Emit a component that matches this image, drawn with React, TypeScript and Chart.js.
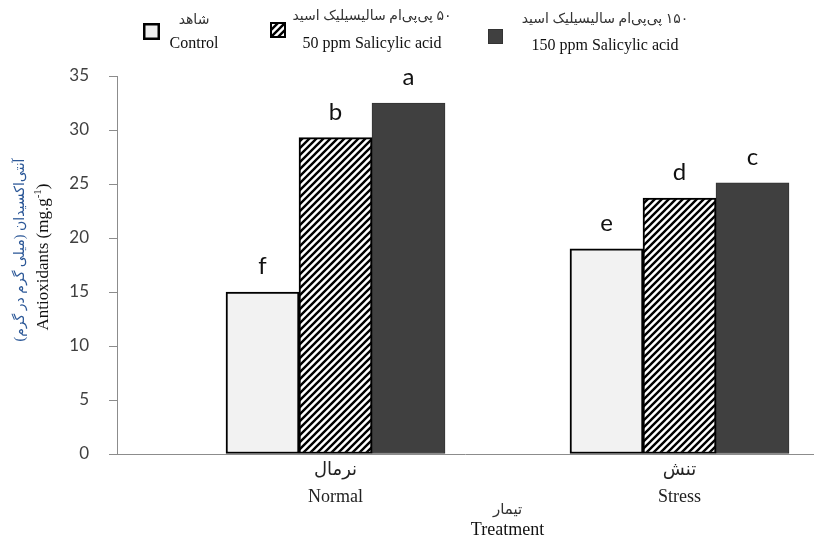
import React, { useEffect, useRef } from "react";
import { Chart, registerables } from "chart.js";

Chart.register(...registerables);

// ---- data ----
const categories = ["Normal", "Stress"];
const categoriesFa = ["نرمال", "تنش"];
const seriesNames = ["Control", "50 ppm Salicylic acid", "150 ppm Salicylic acid"];
const seriesNamesFa = ["شاهد", "۵۰ پی‌پی‌ام سالیسیلیک اسید", "۱۵۰ پی‌پی‌ام سالیسیلیک اسید"];
const controlValues = [15.0, 19.0];
const salicylic50Values = [29.3, 23.7];
const salicylic150Values = [32.5, 25.1];
const controlLetters = ["f", "e"];
const salicylic50Letters = ["b", "d"];
const salicylic150Letters = ["a", "c"];
const categoryPositions = [1, 2];
const yMin = 0;
const yMax = 35;
const yStep = 5;
const yTitleEn = "Antioxidants (mg.g";
const yTitleSup = "-1";
const yTitleFa = "آنتی‌اکسیدان (میلی گرم در گرم)";
const xTitleEn = "Treatment";
const xTitleFa = "تیمار";

const SERIF = "'Liberation Serif', 'Times New Roman', 'DejaVu Sans', serif";
const SANS = "Lato, 'Open Sans', sans-serif";

function makeHatch(): CanvasPattern | string {
  const c = document.createElement("canvas");
  const s = 7;
  c.width = s;
  c.height = s;
  const g = c.getContext("2d");
  if (!g) return "#888";
  g.fillStyle = "#ffffff";
  g.fillRect(0, 0, s, s);
  g.strokeStyle = "#000000";
  g.lineWidth = 2.4;
  g.beginPath();
  g.moveTo(-1, s + 1);
  g.lineTo(s + 1, -1);
  g.moveTo(-2, 2);
  g.lineTo(2, -2);
  g.moveTo(s - 2, s + 2);
  g.lineTo(s + 2, s - 2);
  g.stroke();
  const p = g.createPattern(c, "repeat");
  return p || "#888";
}

export default function App() {
  const ref = useRef<HTMLCanvasElement | null>(null);

  useEffect(() => {
    document.body.style.margin = "0";
    const canvas = ref.current;
    if (!canvas) return;
    const hatch = makeHatch();
    const letters = [controlLetters, salicylic50Letters, salicylic150Letters];

    const lettersPlugin = {
      id: "letters",
      afterDatasetsDraw(chart: any) {
        const ctx = chart.ctx;
        ctx.save();
        ctx.font = `24px ${SANS}`;
        ctx.fillStyle = "#111";
        ctx.textAlign = "center";
        ctx.textBaseline = "alphabetic";
        chart.data.datasets.forEach((_d: any, di: number) => {
          const meta = chart.getDatasetMeta(di);
          meta.data.forEach((el: any, i: number) => {
            ctx.fillText(letters[di][i], el.x, el.y - 18);
          });
        });
        ctx.restore();
      },
    };

    const decorPlugin = {
      id: "decor",
      afterDraw(chart: any) {
        const ctx = chart.ctx;
        ctx.save();
        // legend
        const items = [
          { bx: 143, by: 23, bs: 17, fill: "#eeeeee", stroke: "#000", lw: 2.5, tx: 194, fy: 20, ey: 44 },
          { bx: 270, by: 22, bs: 16, fill: hatch, stroke: "#000", lw: 2, tx: 372, fy: 16, ey: 44 },
          { bx: 488, by: 29, bs: 15, fill: "#404040", stroke: "#333", lw: 1, tx: 605, fy: 19, ey: 46 },
        ];
        items.forEach((it, i) => {
          ctx.fillStyle = it.fill as any;
          ctx.fillRect(it.bx, it.by, it.bs, it.bs);
          ctx.strokeStyle = it.stroke;
          ctx.lineWidth = it.lw;
          ctx.strokeRect(it.bx + it.lw / 2, it.by + it.lw / 2, it.bs - it.lw, it.bs - it.lw);
          ctx.textAlign = "center";
          ctx.textBaseline = "middle";
          ctx.fillStyle = "#333";
          ctx.font = `14px ${SERIF}`;
          ctx.direction = "rtl";
          ctx.fillText(seriesNamesFa[i], it.tx, it.fy);
          ctx.direction = "ltr";
          ctx.fillStyle = "#111";
          ctx.font = `16px ${SERIF}`;
          ctx.fillText(seriesNames[i], it.tx, it.ey);
        });

        // x axis title
        const xs = chart.scales.x;
        const midX = (xs.getPixelForValue(categoryPositions[0]) + xs.getPixelForValue(categoryPositions[1])) / 2;
        ctx.textAlign = "center";
        ctx.textBaseline = "middle";
        ctx.fillStyle = "#333";
        ctx.font = `15px ${SERIF}`;
        ctx.direction = "rtl";
        ctx.fillText(xTitleFa, midX, 510);
        ctx.direction = "ltr";
        ctx.fillStyle = "#111";
        ctx.font = `18px ${SERIF}`;
        ctx.fillText(xTitleEn, midX, 530);

        // y axis title
        ctx.save();
        ctx.translate(20, 250);
        ctx.rotate(-Math.PI / 2);
        ctx.fillStyle = "#2b5797";
        ctx.font = `14px ${SERIF}`;
        ctx.direction = "rtl";
        ctx.fillText(yTitleFa, 0, 0);
        ctx.restore();

        ctx.save();
        ctx.translate(44, 257);
        ctx.rotate(-Math.PI / 2);
        ctx.fillStyle = "#111";
        ctx.textAlign = "left";
        ctx.textBaseline = "middle";
        ctx.font = `17px ${SERIF}`;
        const w1 = ctx.measureText(yTitleEn).width;
        ctx.font = `11px ${SERIF}`;
        const w2 = ctx.measureText(yTitleSup).width;
        ctx.font = `17px ${SERIF}`;
        const w3 = ctx.measureText(")").width;
        let x0 = -(w1 + w2 + w3) / 2;
        ctx.fillText(yTitleEn, x0, 0);
        x0 += w1;
        ctx.font = `11px ${SERIF}`;
        ctx.fillText(yTitleSup, x0, -6);
        x0 += w2;
        ctx.font = `17px ${SERIF}`;
        ctx.fillText(")", x0, 0);
        ctx.restore();

        ctx.restore();
      },
    };

    const toPoints = (vals: number[]) => vals.map((v, i) => ({ x: categoryPositions[i], y: v }));

    const chart = new Chart(canvas, {
      type: "bar",
      data: {
        datasets: [
          {
            label: seriesNames[0],
            data: toPoints(controlValues),
            backgroundColor: "#f2f2f2",
            borderColor: "#000000",
            borderWidth: 2,
            borderSkipped: false,
            barThickness: 73,
          },
          {
            label: seriesNames[1],
            data: toPoints(salicylic50Values),
            backgroundColor: hatch as any,
            borderColor: "#000000",
            borderWidth: 2,
            borderSkipped: false,
            barThickness: 73,
          },
          {
            label: seriesNames[2],
            data: toPoints(salicylic150Values),
            backgroundColor: "#404040",
            borderColor: "#333333",
            borderWidth: 1,
            borderSkipped: false,
            barThickness: 73,
          },
        ],
      },
      options: {
        responsive: false,
        animation: false,
        layout: { padding: { top: 76, right: 1, left: 0, bottom: 0 } },
        plugins: {
          legend: { display: false },
          tooltip: { enabled: false },
          title: { display: false },
        },
        scales: {
          x: {
            type: "linear",
            offset: false,
            min: 0.3648,
            max: 2.3881,
            afterFit(scale: any) {
              scale.height = 86;
            },
            afterBuildTicks(scale: any) {
              scale.ticks = categoryPositions.map((v) => ({ value: v }));
            },
            grid: { display: false, drawTicks: false, offset: false },
            border: { display: true, color: "#8c8c8c", width: 1 },
            ticks: {
              padding: 3,
              color: "#222",
              font: { family: SERIF, size: 18, lineHeight: "27px" } as any,
              callback: (value: any) => {
                const i = categoryPositions.indexOf(Number(value));
                return i >= 0 ? [categoriesFa[i], categories[i]] : "";
              },
            },
          },
          y: {
            min: yMin,
            max: yMax,
            afterFit(scale: any) {
              scale.width = 117;
            },
            grid: { drawOnChartArea: false, drawTicks: true, tickLength: 8, color: "#8c8c8c" },
            border: { display: true, color: "#8c8c8c", width: 1 },
            ticks: {
              stepSize: yStep,
              padding: 20,
              color: "#404040",
              font: { family: SANS, size: 17 },
            },
          },
        },
      } as any,
      plugins: [lettersPlugin, decorPlugin],
    });

    return () => chart.destroy();
  }, []);

  return (
    <div style={{ width: 814, height: 540, background: "#fff" }}>
      <canvas ref={ref} width={814} height={540} />
    </div>
  );
}
